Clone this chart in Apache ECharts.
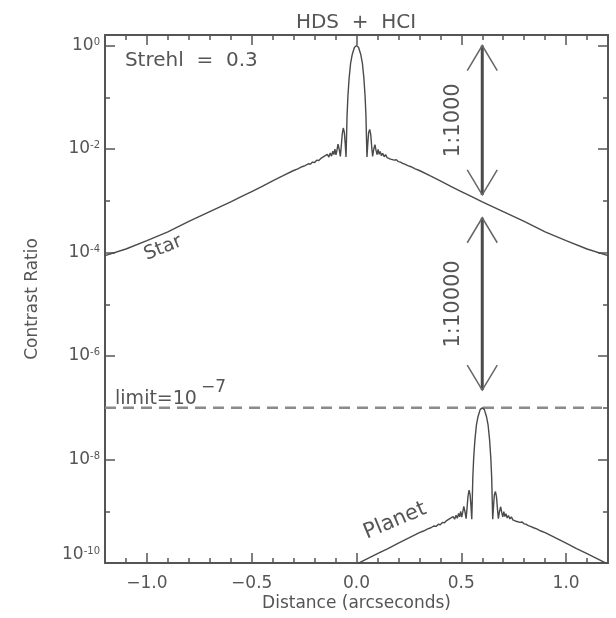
<!DOCTYPE html>
<html>
<head>
<meta charset="utf-8">
<script src="https://cdn.jsdelivr.net/npm/echarts@6/dist/echarts.min.js"></script>
<style>html,body{margin:0;padding:0;background:#fff;}#chart{width:616px;height:618px;}</style>
</head>
<body>
<div id="chart"></div>
<script>
// ---------------- data ----------------
const starX = [-1.2,-1.1,-1.0,-0.9,-0.8,-0.7,-0.6,-0.55,-0.5,-0.45,-0.4,-0.35,-0.3,-0.28,-0.26,-0.245,-0.23,-0.22,-0.21,-0.2,-0.19,-0.18,-0.17,-0.162,-0.153,-0.146,-0.139,-0.132,-0.125,-0.119,-0.113,-0.108,-0.103,-0.098,-0.093,-0.088,-0.082,-0.077,-0.073,-0.068,-0.063,-0.058,-0.054,-0.05,-0.048,-0.045,-0.041,-0.035,-0.028,-0.02,-0.01,0,
  0.01,0.02,0.028,0.035,0.041,0.045,0.048,0.05,0.054,0.058,0.063,0.068,0.073,0.077,0.082,0.088,0.093,0.098,0.103,0.108,0.113,0.119,0.125,0.132,0.139,0.146,0.153,0.162,0.17,0.18,0.19,0.2,0.21,0.22,0.23,0.245,0.26,0.28,0.3,0.35,0.4,0.45,0.5,0.55,0.6,0.7,0.8,0.9,1.0,1.1,1.2];
const starY = [8.7e-5,1.17e-4,1.7e-4,2.5e-4,4.0e-4,6.2e-4,9.5e-4,1.2e-3,1.51e-3,1.9e-3,2.43e-3,3.05e-3,3.85e-3,4.15e-3,4.55e-3,4.8e-3,5.2e-3,5.1e-3,5.6e-3,5.5e-3,6.1e-3,6.0e-3,6.6e-3,6.3e-3,7.3e-3,6.7e-3,7.9e-3,7.0e-3,8.4e-3,7.3e-3,9.1e-3,7.8e-3,1.0e-2,7.7e-3,9.6e-3,1.24e-2,9.6e-3,7.2e-3,1.1e-2,1.95e-2,2.55e-2,2.1e-2,1.3e-2,7.0e-3,1.4e-2,4.5e-2,0.105,0.24,0.46,0.68,0.92,1.0,
  0.92,0.68,0.46,0.24,0.105,0.045,0.014,0.007,0.013,0.021,0.024,0.019,0.0105,0.0072,0.0098,0.0122,0.0095,0.0078,0.0098,0.0079,0.009,0.0074,0.0083,0.0071,0.0078,0.0068,0.0072,0.0064,0.0067,0.0061,0.0062,0.0057,0.0056,0.0053,0.0051,0.0048,0.00455,0.00415,0.00385,0.00305,0.00243,0.0019,0.00151,0.0012,0.00095,0.00062,0.0004,0.00025,0.00017,0.000117,0.000087];

const planetX = [0.0,0.05,0.1,0.15,0.2,0.25,0.3,0.32,0.34,0.355,0.37,0.38,0.39,0.4,0.41,0.42,0.43,0.438,0.447,0.454,0.461,0.468,0.475,0.481,0.487,0.492,0.497,0.502,0.507,0.512,0.518,0.523,0.527,0.532,0.537,0.542,0.546,0.55,0.552,0.555,0.559,0.565,0.572,0.58,0.59,0.6,
  0.61,0.62,0.628,0.635,0.641,0.645,0.648,0.65,0.654,0.658,0.663,0.668,0.673,0.677,0.682,0.688,0.693,0.698,0.703,0.708,0.713,0.719,0.725,0.732,0.739,0.746,0.753,0.762,0.77,0.78,0.79,0.8,0.81,0.82,0.83,0.845,0.86,0.88,0.9,0.95,1.0,1.05,1.1,1.15,1.2];
const planetY = [9.5e-11,1.2e-10,1.51e-10,1.9e-10,2.43e-10,3.05e-10,3.85e-10,4.15e-10,4.55e-10,4.8e-10,5.2e-10,5.1e-10,5.6e-10,5.5e-10,6.1e-10,6.0e-10,6.6e-10,6.3e-10,7.3e-10,6.7e-10,7.9e-10,7.0e-10,8.4e-10,7.3e-10,9.1e-10,7.8e-10,1.0e-9,7.7e-10,9.6e-10,1.24e-9,9.6e-10,7.2e-10,1.1e-9,1.95e-9,2.55e-9,2.1e-9,1.3e-9,7.0e-10,1.4e-9,4.5e-9,1.05e-8,2.4e-8,4.6e-8,6.8e-8,9.2e-8,1.0e-7,
  9.2e-8,6.8e-8,4.6e-8,2.4e-8,1.05e-8,4.5e-9,1.4e-9,7.0e-10,1.3e-9,2.1e-9,2.4e-9,1.9e-9,1.05e-9,7.2e-10,9.8e-10,1.22e-9,9.5e-10,7.8e-10,9.8e-10,7.9e-10,9.0e-10,7.4e-10,8.3e-10,7.1e-10,7.8e-10,6.8e-10,7.2e-10,6.4e-10,6.7e-10,6.1e-10,6.2e-10,5.7e-10,5.6e-10,5.3e-10,5.1e-10,4.8e-10,4.55e-10,4.15e-10,3.85e-10,3.05e-10,2.43e-10,1.9e-10,1.51e-10,1.2e-10,9.5e-11];

const limitValue = 1e-7;

const arrowX = [0.6, 0.6];
const arrowTop = [1.0, 4.7e-4];
const arrowBottom = [1.3e-3, 2.2e-7];
const arrowLabel = ['1:1000', '1:10000'];

const annotationText = ['Strehl  =  0.3', 'Star', 'Planet'];
const annotationX = [-1.105, -0.923, 0.184];
const annotationY = [0.504, 1.22e-4, 6.5e-10];
const limitLabelX = [-1.152];
const limitLabelY = [1.85e-7];

const xMajorTicks = [-1.0, -0.5, 0.0, 0.5, 1.0];
const xMinorTicks = [-1.1,-0.9,-0.8,-0.7,-0.6,-0.4,-0.3,-0.2,-0.1,0.1,0.2,0.3,0.4,0.6,0.7,0.8,0.9,1.1];
const yMajorTicks = [1e-10, 1e-8, 1e-6, 1e-4, 1e-2, 1];
const yMinorTicks = [1e-9, 1e-7, 1e-5, 1e-3, 1e-1];

// ---------------- styles ----------------
const TEXT = '#555';
const AXIS = '#555';
const LINE = '#4a4a4a';
const FONT = '"DejaVu Sans", sans-serif';

const annStyles = [
  {fontSize: 20, rotation: 0, align: 'left'},
  {fontSize: 19, rotation: 0.38, align: 'center'},
  {fontSize: 21, rotation: 0.40, align: 'center'}
];

function xFmt(v) {
  return (v < -1e-9 ? '\u2212' : '') + Math.abs(v).toFixed(1);
}
function yFmt(v) {
  const e = v > 0 ? Math.round(Math.log10(v)) : Math.round(v);
  return '{b|10}{s|' + e + '}';
}

function xAxisDef(pos, major, withLabel) {
  const ax = {
    type: 'value', min: -1.2, max: 1.2, position: pos,
    axisLine: {show: major, onZero: false, lineStyle: {color: AXIS, width: 2}},
    axisTick: {show: true, inside: true, length: major ? 10 : 5,
      customValues: major ? xMajorTicks : xMinorTicks,
      lineStyle: {color: AXIS, width: 1.5}},
    axisLabel: {show: false},
    splitLine: {show: false}
  };
  if (withLabel) {
    ax.axisLabel = {show: true, customValues: xMajorTicks, formatter: xFmt, margin: 12,
      fontSize: 17, color: TEXT, fontFamily: FONT};
    ax.name = 'Distance (arcseconds)';
    ax.nameLocation = 'middle';
    ax.nameGap = 32;
    ax.nameMoveOverlap = false;
    ax.nameTextStyle = {fontSize: 17, color: TEXT, fontFamily: FONT};
  }
  return ax;
}
function yAxisDef(pos, major, withLabel) {
  const ax = {
    type: 'log', logBase: 10, min: 1e-10, max: 1.6, position: pos,
    axisLine: {show: major, onZero: false, lineStyle: {color: AXIS, width: 2}},
    axisTick: {show: true, inside: true, length: major ? 10 : 5,
      customValues: major ? yMajorTicks : yMinorTicks,
      lineStyle: {color: AXIS, width: 1.5}},
    axisLabel: {show: false},
    splitLine: {show: false}
  };
  if (withLabel) {
    ax.axisLabel = {show: true, customValues: yMajorTicks, formatter: yFmt, margin: 5,
      verticalAlignMinLabel: 'bottom',
      color: TEXT, fontFamily: FONT,
      rich: {
        b: {fontSize: 17, lineHeight: 17, verticalAlign: 'bottom', color: TEXT, fontFamily: FONT},
        s: {fontSize: 10, lineHeight: 10, verticalAlign: 'top', color: TEXT, fontFamily: FONT}
      }};
    ax.name = 'Contrast Ratio';
    ax.nameLocation = 'middle';
    ax.nameGap = 64;
    ax.nameMoveOverlap = false;
    ax.nameTextStyle = {fontSize: 17, color: TEXT, fontFamily: FONT};
  }
  return ax;
}

const chart = echarts.init(document.getElementById('chart'), null, {renderer: 'canvas'});
chart.setOption({
  animation: false,
  backgroundColor: '#ffffff',
  title: {
    text: 'HDS  +  HCI', left: 351, top: 8, textAlign: 'center',
    textStyle: {fontSize: 20, fontWeight: 'normal', color: TEXT, fontFamily: FONT}
  },
  grid: {left: 105, right: 8, top: 35, bottom: 55, containLabel: false, outerBoundsMode: 'none'},
  xAxis: [
    xAxisDef('bottom', true, true),
    xAxisDef('bottom', false, false),
    xAxisDef('top', true, false),
    xAxisDef('top', false, false)
  ],
  yAxis: [
    yAxisDef('left', true, true),
    yAxisDef('left', false, false),
    yAxisDef('right', true, false),
    yAxisDef('right', false, false)
  ],
  series: [
    {
      name: 'limit', type: 'custom', xAxisIndex: 0, yAxisIndex: 0, clip: false, silent: true,
      data: [[0, limitValue]],
      renderItem: function (params, api) {
        const cs = params.coordSys;
        const y = api.coord([0, api.value(1)])[1];
        return {
          type: 'line', shape: {x1: cs.x, y1: y, x2: cs.x + cs.width, y2: y},
          style: {stroke: '#8a8a8a', lineWidth: 2.5, lineDash: [11, 7]}
        };
      }
    },
    {
      name: 'Star', type: 'line', xAxisIndex: 0, yAxisIndex: 0,
      data: starX.map((x, i) => [x, starY[i]]),
      showSymbol: false, symbol: 'none', clip: true,
      lineStyle: {color: LINE, width: 1.4}
    },
    {
      name: 'Planet', type: 'line', xAxisIndex: 0, yAxisIndex: 0,
      data: planetX.map((x, i) => [x, planetY[i]]),
      showSymbol: false, symbol: 'none', clip: true,
      lineStyle: {color: LINE, width: 1.4}
    },
    {
      name: 'arrows', type: 'custom', xAxisIndex: 0, yAxisIndex: 0, clip: false, silent: true,
      data: arrowX.map((x, i) => [x, arrowTop[i], arrowBottom[i]]),
      encode: {x: 0, y: [1, 2]},
      renderItem: function (params, api) {
        const i = params.dataIndex;
        const top = api.coord([api.value(0), api.value(1)]);
        const bot = api.coord([api.value(0), api.value(2)]);
        const hw = 15, hh = 25;
        return {
          type: 'group',
          children: [
            {type: 'line', shape: {x1: top[0], y1: top[1], x2: bot[0], y2: bot[1]},
              style: {stroke: LINE, lineWidth: 3}},
            {type: 'polyline', shape: {points: [[top[0] - hw, top[1] + hh], [top[0], top[1]], [top[0] + hw, top[1] + hh]]},
              style: {stroke: '#666', lineWidth: 1.5, fill: null}},
            {type: 'polyline', shape: {points: [[bot[0] - hw, bot[1] - hh], [bot[0], bot[1]], [bot[0] + hw, bot[1] - hh]]},
              style: {stroke: '#666', lineWidth: 1.5, fill: null}},
            {type: 'text', x: top[0] - 29, y: (top[1] + bot[1]) / 2, rotation: Math.PI / 2,
              style: {text: arrowLabel[i], fontSize: 21, fontFamily: FONT, fill: TEXT,
                align: 'center', verticalAlign: 'middle'}}
          ]
        };
      }
    },
    {
      name: 'annotations', type: 'custom', xAxisIndex: 0, yAxisIndex: 0, clip: false, silent: true,
      data: annotationX.map((x, i) => [x, annotationY[i]]),
      renderItem: function (params, api) {
        const i = params.dataIndex;
        const p = api.coord([api.value(0), api.value(1)]);
        const s = annStyles[i];
        return {
          type: 'text', x: p[0], y: p[1], rotation: s.rotation,
          style: {text: annotationText[i], fontSize: s.fontSize, fontFamily: FONT, fill: TEXT,
            align: s.align, verticalAlign: 'middle'}
        };
      }
    },
    {
      name: 'limitLabel', type: 'custom', xAxisIndex: 0, yAxisIndex: 0, clip: false, silent: true,
      data: limitLabelX.map((x, i) => [x, limitLabelY[i]]),
      renderItem: function (params, api) {
        const p = api.coord([api.value(0), api.value(1)]);
        return {
          type: 'text', x: p[0], y: p[1],
          style: {
            text: '{a|limit=10}{b|\u22127}', fill: TEXT, fontFamily: FONT,
            align: 'left', verticalAlign: 'middle',
            rich: {
              a: {fontSize: 19, lineHeight: 30, verticalAlign: 'bottom', fill: TEXT, fontFamily: FONT},
              b: {fontSize: 17, lineHeight: 17, verticalAlign: 'top', fill: TEXT, fontFamily: FONT, padding: [0, 0, 0, 4]}
            }
          }
        };
      }
    }
  ]
});
</script>
</body>
</html>
